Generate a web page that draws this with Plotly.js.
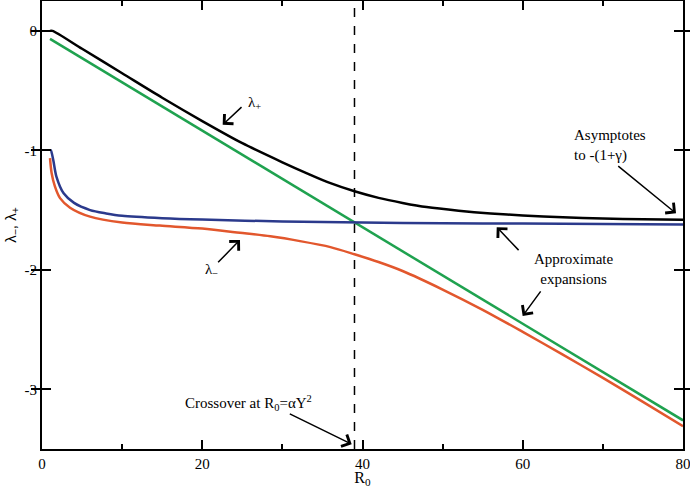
<!DOCTYPE html>
<html>
<head>
<meta charset="utf-8">
<script src="https://cdn.plot.ly/plotly-3.0.1.min.js"></script>
<style>
  html, body { margin: 0; padding: 0; background: #fff; }
  #plot { width: 690px; height: 488px; }
</style>
</head>
<body>
<div id="plot"></div>
<script>
// values
const lamPlusX = [1, 1.3, 5, 10, 15, 20, 25, 30, 33, 36, 39, 42, 45, 48, 52, 56, 60, 65, 70, 75, 80];
const lamPlusY = [0, 0, -0.15, -0.355, -0.56, -0.755, -0.94, -1.10, -1.19, -1.275, -1.343, -1.398, -1.44, -1.475, -1.505, -1.528, -1.545, -1.56, -1.57, -1.577, -1.582];

const lamMinusX = [1, 1.1, 1.4, 1.8, 2.7, 4, 6, 8, 10, 15, 20, 30, 40, 50, 60, 70, 80];
const lamMinusY = [-1, -1, -1.08, -1.22, -1.36, -1.44, -1.50, -1.528, -1.548, -1.568, -1.58, -1.595, -1.605, -1.61, -1.613, -1.616, -1.62];

const exactMinusX = [1, 1.2, 1.6, 2.25, 3.5, 6, 10, 14.7, 20, 24.7, 28.5, 32.2, 36, 39, 42, 45, 50, 55, 60, 65, 70, 75, 80];
const exactMinusY = [-1.065, -1.19, -1.30, -1.40, -1.48, -1.555, -1.605, -1.63, -1.655, -1.69, -1.72, -1.76, -1.81, -1.87, -1.935, -2.01, -2.165, -2.335, -2.52, -2.71, -2.905, -3.105, -3.31];

const approxX = [1, 20, 40, 60, 80];
const approxY = [-0.067, -0.835, -1.643, -2.45, -3.26];

const crossoverR = 39;
const xTicks = [0, 20, 40, 60, 80];
const xMinorTicks = [10, 30, 50, 70];
const yTicks = [-3, -2, -1, 0];
const yTickText = ['-3', '-2', '-1', '0'];

const serif = "'Liberation Serif', serif";
const sans = "'Liberation Sans', sans-serif";

const data = [
    {x: approxX, y: approxY, type: 'scatter', mode: 'lines',
     line: {color: '#1fa24f', width: 2.5}},
    {x: exactMinusX, y: exactMinusY, type: 'scatter', mode: 'lines', line: {color: '#e2572d', width: 2.5, shape: 'spline', smoothing: 0.8}},
    {x: lamMinusX, y: lamMinusY, type: 'scatter', mode: 'lines', line: {color: '#2b3a8c', width: 2.5, shape: 'spline', smoothing: 0.8}},
    {x: lamPlusX, y: lamPlusY, type: 'scatter', mode: 'lines', line: {color: '#000000', width: 2.5, shape: 'spline', smoothing: 0.8}},
    // carrier for the minor-tick axis, draws nothing
    {x: approxX, y: approxY, xaxis: 'x2', type: 'scatter', mode: 'lines', line: {width: 0}, opacity: 0, hoverinfo: 'skip'}
];

// arrows only, text placed separately
const arrow = (hx, hy, tx, ty) => ({
    x: hx, y: hy, ax: tx, ay: ty, xref: 'x', yref: 'y', axref: 'x', ayref: 'y',
    text: '', showarrow: true, arrowhead: 4, arrowsize: 1.7, arrowwidth: 1.5, arrowcolor: '#000', standoff: 0, startstandoff: 0
});
const label = (x, y, text, anchor) => ({
    x: x, y: y, xref: 'x', yref: 'y', text: text, showarrow: false,
    xanchor: anchor || 'center', yanchor: 'middle', align: anchor || 'center',
    font: {family: serif, size: 15, color: '#000'}
});

const annotations = [
    arrow(22.55, -0.786, 25.09, -0.627),
    label(26.5, -0.6, 'λ<sub>+</sub>'),
    arrow(24.71, -1.75, 21.8, -1.95),
    label(21.2, -2.0, 'λ<sub>−</sub>'),
    arrow(79.13, -1.527, 71.73, -1.122),
    label(66.1, -0.958, 'Asymptotes<br>to -(1+γ)', 'left'),
    arrow(56.75, -1.643, 59.66, -1.848),
    arrow(59.99, -2.386, 62.37, -2.168),
    label(66.3, -1.993, 'Approximate<br>expansions'),
    arrow(38.65, -3.46, 30.74, -3.2),
    label(17.6, -3.115, 'Crossover at R<sub>0</sub>=αΥ<sup>2</sup>', 'left')
];

const layout = {
    width: 690,
    height: 488,
    margin: {l: 42, r: 7, t: 1, b: 39},
    paper_bgcolor: '#fff',
    plot_bgcolor: '#fff',
    showlegend: false,
    font: {family: serif, size: 15, color: '#000'},
    xaxis: {
        range: [0, 80],
        tickvals: xTicks,
        ticks: 'inside', ticklen: 9, tickwidth: 2, tickcolor: '#000',
        showline: true, linewidth: 2, linecolor: '#000', mirror: 'allticks',
        showgrid: false, zeroline: false,
        ticklabeloverflow: 'allow',
        tickfont: {family: serif, size: 15},
        title: {text: 'R<sub>0</sub>', font: {family: serif, size: 16}, standoff: 5}
    },
    xaxis2: {
        overlaying: 'x', anchor: 'y', side: 'bottom',
        range: [0, 80],
        tickvals: xMinorTicks,
        ticks: 'inside', ticklen: 5, tickwidth: 2, tickcolor: '#000',
        showticklabels: false, showline: false, mirror: 'allticks',
        showgrid: false, zeroline: false
    },
    yaxis: {
        range: [-3.5, 0.25],
        tickvals: yTicks, ticktext: yTickText,
        ticks: 'inside', ticklen: 9, tickwidth: 2, tickcolor: '#000',
        showline: true, linewidth: 2, linecolor: '#000', mirror: 'allticks',
        showgrid: false, zeroline: false,
        tickfont: {family: serif, size: 15},
        title: {text: 'λ<sub>−</sub>, λ<sub>+</sub>', font: {family: sans, size: 15}, standoff: 4}
    },
    shapes: [{
        type: 'line', xref: 'x', yref: 'paper', x0: crossoverR, x1: crossoverR, y0: 0, y1: 1,
        line: {color: '#000', width: 1.5, dash: 'dash'}
    }],
    annotations: annotations
};

Plotly.newPlot('plot', data, layout, {staticPlot: true});
</script>
</body>
</html>
